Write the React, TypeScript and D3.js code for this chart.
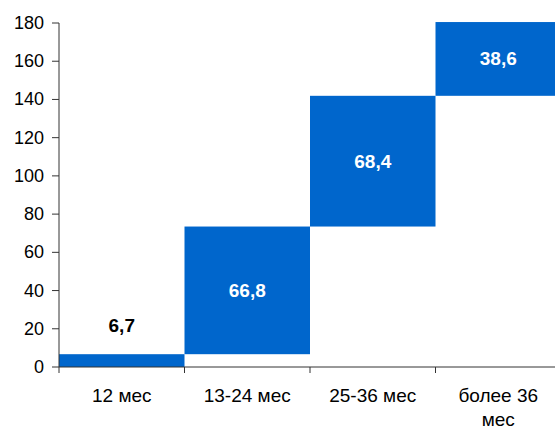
import React from "react";
import * as d3 from "d3";

const categories = ["12 мес", "13-24 мес", "25-36 мес", "более 36 мес"];
const values = [6.7, 66.8, 68.4, 38.6];
const labels = ["6,7", "66,8", "68,4", "38,6"];
const yTicks = [0, 20, 40, 60, 80, 100, 120, 140, 160, 180];

const W = 555;
const H = 427;
const margin = { left: 59, right: -6, top: 23, bottom: 60 };
const BLUE = "#0066CC";
const FONT = "'Liberation Sans', Arial, sans-serif";

export default function App() {
  const x = d3
    .scaleBand<string>()
    .domain(categories)
    .range([margin.left, W - margin.right])
    .padding(0);
  const y = d3.scaleLinear().domain([0, 180]).range([H - margin.bottom, margin.top]);

  // cumulative starts for the waterfall
  const starts: number[] = [];
  values.reduce((acc, v, i) => {
    starts[i] = acc;
    return acc + v;
  }, 0);

  const y0 = y(0);
  const bw = x.bandwidth();

  return (
    <svg
      width={W}
      height={H}
      style={{ position: "absolute", left: 0, top: 0, background: "#fff" }}
      fontFamily={FONT}
    >
      {categories.map((c, i) => {
        const top = y(starts[i] + values[i]);
        const bot = y(starts[i]);
        const cx = (x(c) as number) + bw / 2;
        const inside = bot - top > 30;
        return (
          <g key={c}>
            <rect x={x(c)} y={top} width={bw} height={bot - top} fill={BLUE} />
            <text
              x={cx}
              y={inside ? (top + bot) / 2 : top - 29}
              textAnchor="middle"
              dominantBaseline="central"
              fontWeight="bold"
              fontSize={19}
              fill={inside ? "#fff" : "#000"}
            >
              {labels[i]}
            </text>
          </g>
        );
      })}

      {/* y axis */}
      <line x1={margin.left} x2={margin.left} y1={y(180)} y2={y0} stroke="#333" strokeWidth={1} />
      {yTicks.map((t) => (
        <g key={t}>
          <line x1={margin.left - 7} x2={margin.left} y1={y(t)} y2={y(t)} stroke="#333" />
          <text
            x={margin.left - 15}
            y={y(t)}
            textAnchor="end"
            dominantBaseline="central"
            fontSize={18}
            fill="#000"
          >
            {t}
          </text>
        </g>
      ))}

      {/* x axis */}
      <line x1={margin.left} x2={W} y1={y0} y2={y0} stroke="#333" strokeWidth={1} />
      {categories.map((c, i) => (
        <line
          key={"t" + i}
          x1={x(c) as number}
          x2={x(c) as number}
          y1={y0}
          y2={y0 + 6}
          stroke="#333"
        />
      ))}
      {categories.map((c) => {
        const cx = (x(c) as number) + bw / 2;
        const lines = c === "более 36 мес" ? ["более 36", "мес"] : [c];
        return (
          <text key={"l" + c} x={cx} textAnchor="middle" fontSize={19} fill="#000">
            {lines.map((ln, j) => (
              <tspan key={j} x={cx} y={402 + j * 24}>
                {ln}
              </tspan>
            ))}
          </text>
        );
      })}
    </svg>
  );
}
